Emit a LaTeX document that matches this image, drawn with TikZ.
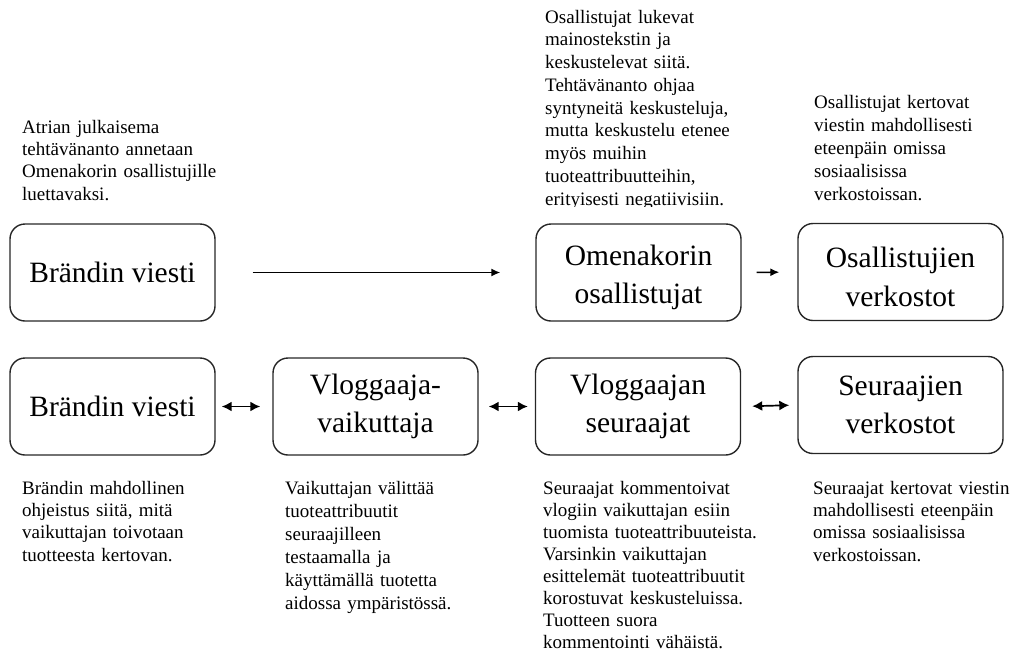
\documentclass[tikz,border=0pt]{standalone}
\usepackage{fontspec}
\setmainfont{Liberation Serif}
\usetikzlibrary{arrows.meta,calc}
\begin{document}
\begin{tikzpicture}[x=1pt,y=-1pt,
  box/.style={draw=black!85, line width=1.4pt, rounded corners=15pt,
    minimum width=205pt, minimum height=97pt, align=center,
    font=\fontsize{29.5}{38.5}\selectfont, inner sep=0pt},
  boxtext/.style={align=center, inner sep=0pt, font=\fontsize{29.5}{38.5}\selectfont},
  note/.style={anchor=base west, text width=260pt, align=left, inner sep=0pt,
    font=\fontsize{19}{22.4}\selectfont},
  flow/.style={line width=1.5pt, -{Latex[length=9pt,width=8pt]}},
  both/.style={line width=1.7pt, {Latex[length=10pt,width=10pt]}-{Latex[length=10pt,width=10pt]}}]
\useasboundingbox (0,0) rectangle (1011,656);

% upper chain
\node[box] (tb) at (112.5,272.5) {Brändin viesti};
\node[box] (to) at (638.5,272.5) {};
\node[box] (tv) at (900.5,272) {};
\node[boxtext] (tot) at ($(to.center)+(0,5)$) {Omenakorin\\osallistujat};
\node[boxtext] (tvt) at ($(tv.center)+(0,5)$) {Osallistujien\\verkostot};

\draw[flow, shorten <=37pt, shorten >=35pt] (tb.east) -- (to.west);
\draw[flow, shorten <=15pt, shorten >=18pt] (to.east) -- (tv.west);

% lower chain
\node[box] (bb) at (112.5,406.5) {Brändin viesti};
\node[box] (bv) at (375.5,406.5) {Vloggaaja-\\vaikuttaja};
\node[box] (bs) at (638,406.5) {Vloggaajan\\seuraajat};
\node[box] (bn) at (900.5,405) {Seuraajien\\verkostot};

\draw[both, shorten <=6pt, shorten >=12pt] (bb.east) -- (bv.west);
\draw[both, shorten <=10pt, shorten >=7pt] (bv.east) -- (bs.west);
\draw[both, shorten <=11pt, shorten >=8pt] (bs.east) -- (bn.west);

% notes above the upper chain
\node[note] (n1) at (22,133) {Atrian julkaisema\\tehtävänanto annetaan\\Omenakorin osallistujille\\luettavaksi.};
\begin{scope}
  \clip (530,0) rectangle (800,206.5);
  \node[note, font=\fontsize{19}{22.75}\selectfont] (n2) at (545,23) {Osallistujat lukevat\\mainostekstin ja\\keskustelevat siitä.\\Tehtävänanto ohjaa\\syntyneitä keskusteluja,\\mutta keskustelu etenee\\myös muihin\\tuoteattribuutteihin,\\erityisesti negatiivisiin.};
\end{scope}
\node[note, font=\fontsize{19}{23}\selectfont] (n3) at (814,108.5) {Osallistujat kertovat\\viestin mahdollisesti\\eteenpäin omissa\\sosiaalisissa\\verkostoissan.};

% notes below the lower chain
\node[note] (n4) at (22,494) {Brändin mahdollinen\\ohjeistus siitä, mitä\\vaikuttajan toivotaan\\tuotteesta kertovan.};
\node[note, font=\fontsize{19}{23}\selectfont] (n5) at (285,494) {Vaikuttajan välittää\\tuoteattribuutit\\seuraajilleen\\testaamalla ja\\käyttämällä tuotetta\\aidossa ympäristössä.};
\node[note, font=\fontsize{19}{22.1}\selectfont] (n6) at (543,494) {Seuraajat kommentoivat\\vlogiin vaikuttajan esiin\\tuomista tuoteattribuuteista.\\Varsinkin vaikuttajan\\esittelemät tuoteattribuutit\\korostuvat keskusteluissa.\\Tuotteen suora\\kommentointi vähäistä.};
\node[note] (n7) at (813,494) {Seuraajat kertovat viestin\\mahdollisesti eteenpäin\\omissa sosiaalisissa\\verkostoissan.};
\end{tikzpicture}
\end{document}
